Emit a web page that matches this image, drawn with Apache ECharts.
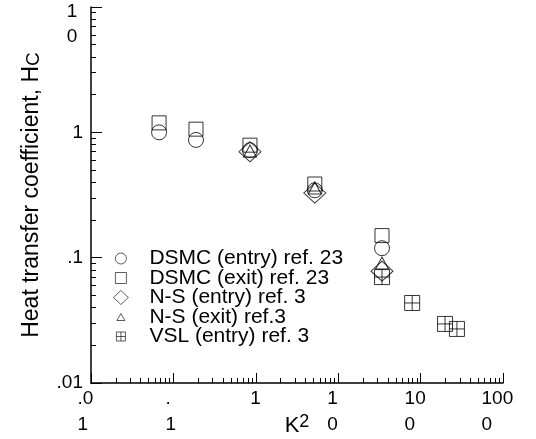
<!DOCTYPE html>
<html>
<head>
<meta charset="utf-8">
<script src="https://cdn.jsdelivr.net/npm/echarts@6/dist/echarts.min.js"></script>
<style>
html, body { margin: 0; padding: 0; background: #fff; }
#chart { width: 536px; height: 439px; }
</style>
</head>
<body>
<div id="chart"></div>
<script>
// data (K^2, Hc)
var dsmcEntryK2 = [0.067, 0.188, 0.85, 5.2, 34];
var dsmcEntryHc = [1.0, 0.87, 0.72, 0.345, 0.119];
var dsmcExitK2 = [0.067, 0.188, 0.85, 5.2, 34];
var dsmcExitHc = [1.19, 1.06, 0.79, 0.387, 0.150];
var nsEntryK2 = [0.85, 5.2, 34];
var nsEntryHc = [0.70, 0.328, 0.078];
var nsExitK2 = [0.85, 5.2, 34];
var nsExitHc = [0.71, 0.36, 0.0906];
var vslK2 = [34, 79, 198, 276];
var vslHc = [0.070, 0.0435, 0.0296, 0.027];

var seriesNames = ['DSMC (entry) ref. 23', 'DSMC (exit) ref. 23', 'N-S (entry) ref. 3', 'N-S (exit) ref.3', 'VSL (entry) ref. 3'];

// axis ticks and their labels
var xTicks = [0.01, 0.1, 1, 10, 100, 1000];
var xTickText = ['.01', '.1', '1', '10', '100', '1000'];
var yTicks = [0.01, 0.1, 1, 10];
var yTickText = ['.01', '.1', '1', '10'];

var FONT = '"Liberation Sans", Arial, Helvetica, sans-serif';
var boxPath = 'path://M0,0L10,0L10,10L0,10Z M5,0L5,10 M0,5L10,5';

function minorTicks(lo, hi) {
	var out = [];
	for (var d = lo; d < hi; d *= 10) {
		for (var k = 2; k <= 9; k++) out.push(+(d * k).toPrecision(3));
	}
	return out;
}

function pairs(xs, ys) {
	var r = [];
	for (var i = 0; i < xs.length; i++) r.push([xs[i], ys[i]]);
	return r;
}

function tickIndex(list, v) {
	var lv = Math.round(Math.log(v) / Math.LN10);
	for (var i = 0; i < list.length; i++) {
		if (Math.round(Math.log(list[i]) / Math.LN10) === lv) return i;
	}
	return -1;
}

var ctx = document.createElement('canvas').getContext('2d');
ctx.font = '19px ' + FONT;
function textW(t) { return Math.ceil(ctx.measureText(t).width); }

// the original labels are broken over two lines, left-aligned in the width of the full label
var xRich = {};
for (var i = 0; i < xTickText.length; i++) {
	xRich['w' + i] = { width: textW(xTickText[i]), align: 'left', fontSize: 19, lineHeight: 26, fontFamily: FONT, color: '#000' };
}
var yRich = {
	e: { fontSize: 19, lineHeight: 35, fontFamily: FONT },
	c: { width: textW('10'), align: 'center', fontSize: 19, lineHeight: 25, fontFamily: FONT, color: '#000' }
};

var markerStyle = { color: 'rgba(0,0,0,0)', borderColor: '#000', borderWidth: 1 };

var symbols = ['circle', 'rect', 'diamond', 'triangle', boxPath];
var symbolSizes = [15, 14, [22, 20], [13, 12], 15];
var seriesData = [
	pairs(dsmcEntryK2, dsmcEntryHc),
	pairs(dsmcExitK2, dsmcExitHc),
	pairs(nsEntryK2, nsEntryHc),
	pairs(nsExitK2, nsExitHc),
	pairs(vslK2, vslHc)
];

// legend icon sizes, one legend per entry so every icon keeps its own size
var legendIconSize = [[11, 11], [11, 11], [15, 14], [8, 7], [9, 9]];

var series = [];
var legends = [];
for (var s = 0; s < seriesNames.length; s++) {
	series.push({
		name: seriesNames[s],
		type: 'scatter',
		symbol: symbols[s],
		symbolSize: symbolSizes[s],
		itemStyle: markerStyle,
		data: seriesData[s],
		z: 3 + s
	});
	var w = legendIconSize[s][0], h = legendIconSize[s][1];
	var left = 120.5 - w / 2;
	legends.push({
		data: [seriesNames[s]],
		left: left,
		top: 248 + 19.5 * s,
		padding: 0,
		itemWidth: w,
		itemHeight: h,
		selectedMode: false,
		itemStyle: { color: 'rgba(0,0,0,0)', borderColor: '#000', borderWidth: 0.8 },
		textStyle: {
			fontSize: 21,
			lineHeight: 20,
			fontFamily: FONT,
			color: '#000',
			padding: [0, 0, 0, 149 - (left + w + 5)]
		}
	});
}

var myChart = echarts.init(document.getElementById('chart'));
var option = {
	backgroundColor: '#fff',
	animation: false,
	grid: { left: 91, right: 33, top: 7, bottom: 56, containLabel: false, outerBoundsMode: 'none' },
	legend: legends,
	xAxis: [{
		type: 'log',
		logBase: 10,
		min: 0.01,
		max: 1000,
		position: 'bottom',
		name: 'K{p|2}',
		nameLocation: 'middle',
		nameGap: 30,
		nameMoveOverlap: false,
		nameTextStyle: {
			fontSize: 22, fontFamily: FONT, color: '#000', lineHeight: 26,
			rich: { p: { fontSize: 18, fontFamily: FONT, color: '#000', verticalAlign: 'top', lineHeight: 20 } }
		},
		axisLine: { show: true, lineStyle: { color: '#000', width: 1.5 } },
		axisTick: { show: true, inside: true, length: 10, customValues: xTicks, lineStyle: { color: '#000', width: 1 } },
		axisLabel: {
			customValues: xTicks,
			margin: 3,
			fontSize: 19,
			lineHeight: 26,
			fontFamily: FONT,
			color: '#000',
			formatter: function(v) {
				var i = tickIndex(xTicks, v);
				var t = xTickText[i];
				if (t.length > 1) return '{w' + i + '|' + t.slice(0, -1) + '}\n{w' + i + '|' + t.slice(-1) + '}';
				return '{w' + i + '|' + t + '}';
			},
			rich: xRich
		},
		splitLine: { show: false }
	}, {
		type: 'log',
		logBase: 10,
		min: 0.01,
		max: 1000,
		position: 'bottom',
		axisLine: { show: false },
		axisTick: { show: true, inside: true, length: 5, customValues: minorTicks(0.01, 1000), lineStyle: { color: '#000', width: 1 } },
		axisLabel: { show: false },
		splitLine: { show: false }
	}],
	yAxis: [{
		type: 'log',
		logBase: 10,
		min: 0.01,
		max: 10,
		position: 'left',
		name: 'Heat transfer coefficient, H{s|C}',
		nameLocation: 'middle',
		nameRotate: 90,
		nameGap: 48,
		nameMoveOverlap: false,
		nameTextStyle: {
			fontSize: 23, fontFamily: FONT, color: '#000',
			rich: { s: { fontSize: 19, fontFamily: FONT, color: '#000', verticalAlign: 'bottom' } }
		},
		axisLine: { show: true, lineStyle: { color: '#000', width: 1.5 } },
		axisTick: { show: true, inside: true, length: 11, customValues: yTicks, lineStyle: { color: '#000', width: 1 } },
		axisLabel: {
			customValues: yTicks,
			margin: 8,
			fontSize: 19,
			fontFamily: FONT,
			color: '#000',
			formatter: function(v) {
				var i = tickIndex(yTicks, v);
				var t = yTickText[i];
				if (t.length > 1 && t.charAt(0) !== '.') return '{e| }\n{c|' + t.slice(0, -1) + '}\n{c|' + t.slice(-1) + '}';
				return t;
			},
			rich: yRich
		},
		splitLine: { show: false }
	}, {
		type: 'log',
		logBase: 10,
		min: 0.01,
		max: 10,
		position: 'left',
		axisLine: { show: false },
		axisTick: { show: true, inside: true, length: 5, customValues: minorTicks(0.01, 10), lineStyle: { color: '#000', width: 1 } },
		axisLabel: { show: false },
		splitLine: { show: false }
	}],
	series: series
};
myChart.setOption(option);
window.addEventListener('resize', function() {
	myChart.resize();
});
</script>
</body>
</html>
